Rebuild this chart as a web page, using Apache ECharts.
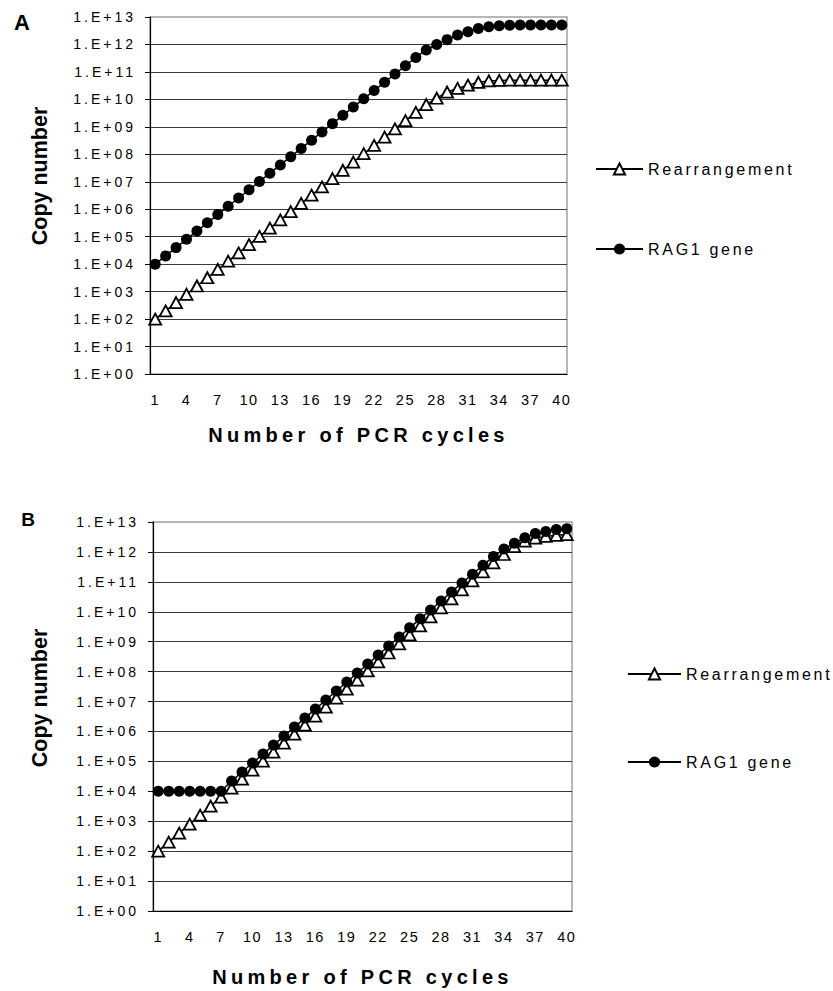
<!DOCTYPE html>
<html>
<head>
<meta charset="utf-8">
<script src="https://cdn.jsdelivr.net/npm/echarts@6.0.0/dist/echarts.min.js"></script>
<style>
html,body{margin:0;padding:0;background:#fff;}
#chart{width:833px;height:991px;}
#chart text[style*="14px"]{letter-spacing:3px;}
#chart text[style*="14.5px"]{letter-spacing:1.5px;}
#chart text[style*="16px"]{letter-spacing:2.7px;}
#chart text[style*="20px"]{letter-spacing:4.3px;}
</style>
</head>
<body>
<div id="chart"></div>
<script>
// ---- data ----
const cycles = ['1','2','3','4','5','6','7','8','9','10','11','12','13','14','15','16','17','18','19','20',
                '21','22','23','24','25','26','27','28','29','30','31','32','33','34','35','36','37','38','39','40'];

// Panel A
const rearrA = [100, 200, 400, 800, 1600, 3200, 6400, 12800, 25600, 51200,
                1.02e5, 2.05e5, 4.1e5, 8.19e5, 1.64e6, 3.28e6, 6.55e6, 1.31e7, 2.62e7, 5.24e7,
                1.05e8, 2.1e8, 4.19e8, 8.39e8, 1.68e9, 3.36e9, 6.5e9, 1.1e10, 1.85e10, 2.5e10,
                3.3e10, 4.2e10, 4.7e10, 4.9e10, 5.0e10, 5.0e10, 5.0e10, 5.0e10, 5.0e10, 5.0e10];
const ragA   = [1e4, 2e4, 4e4, 8e4, 1.6e5, 3.2e5, 6.4e5, 1.28e6, 2.56e6, 5.12e6,
                1.02e7, 2.05e7, 4.1e7, 8.19e7, 1.64e8, 3.28e8, 6.55e8, 1.31e9, 2.62e9, 5.24e9,
                1.05e10, 2.1e10, 4.19e10, 8.39e10, 1.68e11, 3.36e11, 6.3e11, 1.0e12, 1.5e12, 2.2e12,
                2.9e12, 3.8e12, 4.4e12, 4.8e12, 5.0e12, 5.1e12, 5.1e12, 5.1e12, 5.1e12, 5.1e12];

// Panel B
const rearrB = [100, 200, 400, 800, 1600, 3200, 6400, 12800, 25600, 51200,
                1.02e5, 2.05e5, 4.1e5, 8.19e5, 1.64e6, 3.28e6, 6.55e6, 1.31e7, 2.62e7, 5.24e7,
                1.05e8, 2.1e8, 4.19e8, 8.39e8, 1.68e9, 3.36e9, 6.71e9, 1.34e10, 2.68e10, 5.37e10,
                1.07e11, 2.15e11, 4.29e11, 8.2e11, 1.5e12, 2.3e12, 2.9e12, 3.3e12, 3.6e12, 3.8e12];
const ragB   = [1e4, 1e4, 1e4, 1e4, 1e4, 1e4, 1e4, 2.2e4, 4.4e4, 8.8e4,
                1.76e5, 3.5e5, 7.0e5, 1.4e6, 2.8e6, 5.6e6, 1.13e7, 2.25e7, 4.5e7, 9.0e7,
                1.8e8, 3.6e8, 7.2e8, 1.44e9, 2.9e9, 5.8e9, 1.15e10, 2.3e10, 4.6e10, 9.2e10,
                1.8e11, 3.6e11, 7.0e11, 1.25e12, 1.95e12, 3.0e12, 4.1e12, 4.8e12, 5.6e12, 6.0e12];

const seriesNames = ['Rearrangement', 'RAG1 gene'];
const panelLabels = ['A', 'B'];
const xTitle = 'Number of PCR cycles';
const yTitle = 'Copy number';

// ---- chart ----
const FONT = '"Liberation Sans", Arial, sans-serif';
function yFmt(v) {
  const e = Math.round(Math.log10(v));
  return '1.E+' + (e < 10 ? '0' : '') + e;
}

function xAxisOf(gi, gap) {
  return {
    type: 'category', gridIndex: gi, data: cycles, boundaryGap: true,
    axisLine: { lineStyle: { color: '#000', width: 1.2 } },
    axisTick: { interval: 0, length: 5, lineStyle: { color: '#000', width: 1 } },
    axisLabel: { interval: 2, margin: 18, color: '#000', fontSize: 14.5, fontFamily: FONT },
    name: xTitle, nameLocation: 'middle', nameGap: gap,
    nameTextStyle: { fontSize: 20, fontWeight: 'bold', color: '#000', fontFamily: FONT },
    splitLine: { show: false }
  };
}
function yAxisOf(gi) {
  return {
    type: 'log', gridIndex: gi, logBase: 10, min: 1, max: 1e13, interval: 1,
    axisLine: { show: true, lineStyle: { color: '#000', width: 1.2 } },
    axisTick: { show: true, length: 5, lineStyle: { color: '#000' } },
    axisLabel: { formatter: yFmt, margin: 14, color: '#000', fontSize: 14, fontFamily: FONT },
    splitLine: { show: true, showMaxLine: false, lineStyle: { color: '#3a3a3a', width: 1 } },
    minorTick: { show: false }, minorSplitLine: { show: false }
  };
}
function lineSeries(name, data, gi, isTri) {
  return {
    name: name, type: 'line', xAxisIndex: gi, yAxisIndex: gi, data: data,
    symbol: isTri ? 'triangle' : 'circle',
    symbolSize: isTri ? [12, 11] : 11,
    showAllSymbol: true, silent: true,
    lineStyle: { color: '#000', width: 1.5 },
    itemStyle: isTri ? { color: '#fff', borderColor: '#000', borderWidth: 1.8 }
                     : { color: '#000', borderColor: '#000', borderWidth: 0 },
    emphasis: { disabled: true }
  };
}
function legendOf(name, left, top, w) {
  return {
    data: [name], left: left, top: top, padding: 0, orient: 'vertical',
    itemWidth: w, itemHeight: 14, selectedMode: false,
    textStyle: { fontSize: 16, color: '#000', fontFamily: FONT }
  };
}

const chart = echarts.init(document.getElementById('chart'), null, { renderer: 'svg' });
chart.setOption({
  animation: false,
  backgroundColor: '#fff',
  grid: [
    { left: 150, right: 266, top: 17, bottom: 617, show: true, borderColor: '#a0a0a0', borderWidth: 1.5, backgroundColor: 'transparent' },
    { left: 153, right: 261, top: 522, bottom: 80, show: true, borderColor: '#a0a0a0', borderWidth: 1.5, backgroundColor: 'transparent' }
  ],
  xAxis: [xAxisOf(0, 51), xAxisOf(1, 56)],
  yAxis: [yAxisOf(0), yAxisOf(1)],
  legend: [
    legendOf(seriesNames[0], 595, 161, 47),
    legendOf(seriesNames[1], 595, 241, 47),
    legendOf(seriesNames[0], 627, 666, 53),
    legendOf(seriesNames[1], 627, 754, 53)
  ],
  graphic: [
    { type: 'text', x: 22, y: 22, style: { text: panelLabels[0], font: 'bold 22px ' + FONT, fill: '#000', textAlign: 'center', textVerticalAlign: 'middle' } },
    { type: 'text', x: 28, y: 519, style: { text: panelLabels[1], font: 'bold 19px ' + FONT, fill: '#000', textAlign: 'center', textVerticalAlign: 'middle' } },
    { type: 'text', x: 40, y: 176, rotation: Math.PI / 2, style: { text: yTitle, font: 'bold 21.5px ' + FONT, fill: '#000', textAlign: 'center', textVerticalAlign: 'middle' } },
    { type: 'text', x: 40, y: 698, rotation: Math.PI / 2, style: { text: yTitle, font: 'bold 21.5px ' + FONT, fill: '#000', textAlign: 'center', textVerticalAlign: 'middle' } }
  ],
  series: [
    lineSeries(seriesNames[0], rearrA, 0, true),
    lineSeries(seriesNames[1], ragA, 0, false),
    lineSeries(seriesNames[0], rearrB, 1, true),
    lineSeries(seriesNames[1], ragB, 1, false)
  ]
});
</script>
</body>
</html>
